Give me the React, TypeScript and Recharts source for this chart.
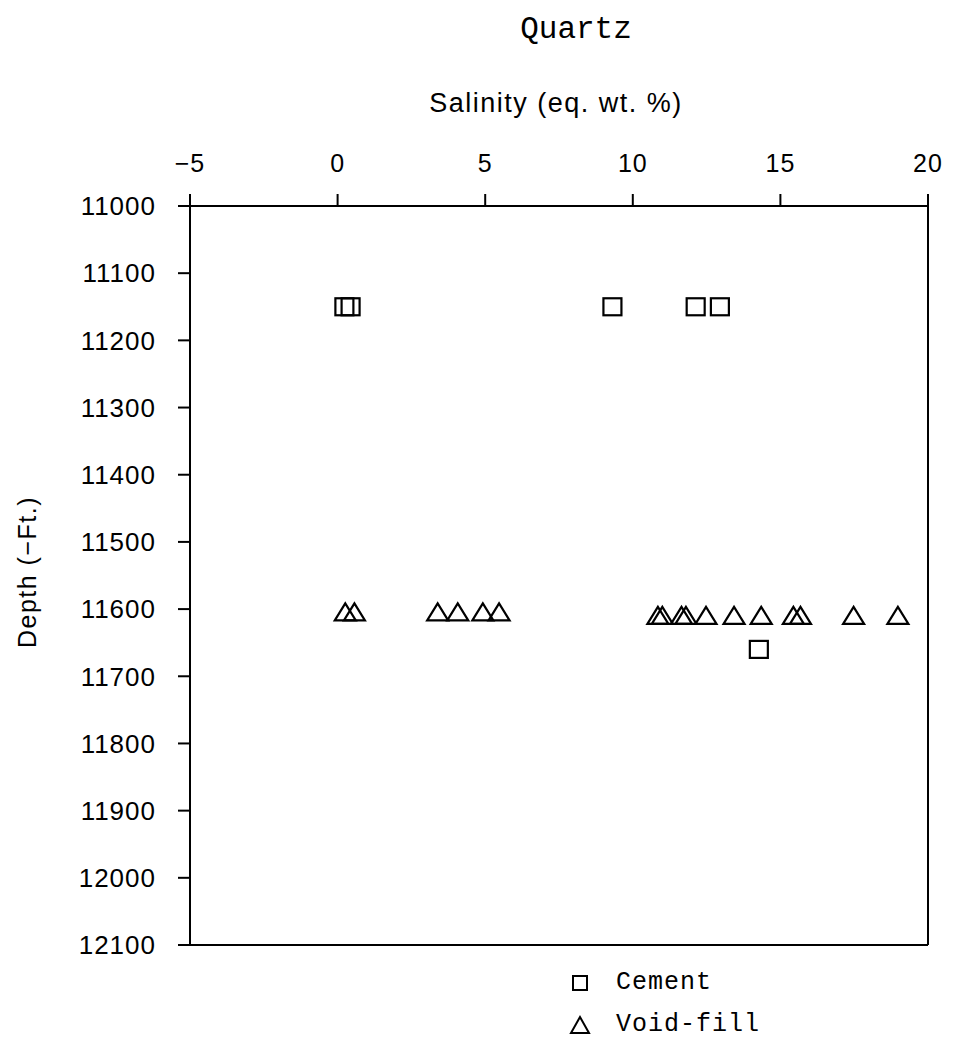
import React from 'react';
import {
  ScatterChart,
  Scatter,
  XAxis,
  YAxis,
  ReferenceLine,
  Legend
} from 'recharts';

// Salinity (eq. wt. %) and depth (-ft)
const cementSalinity = [0.23, 0.44, 9.31, 12.13, 12.95, 14.27];
const cementDepth = [11150, 11150, 11150, 11150, 11150, 11660];

const voidSalinity = [
  0.26, 0.57, 3.39, 4.07, 4.92, 5.47,
  10.85, 11.0, 11.65, 11.8, 12.48, 13.43, 14.35, 15.44, 15.68, 17.48, 18.98
];
const voidDepth = [
  11605, 11605, 11605, 11605, 11605, 11605,
  11610, 11610, 11610, 11610, 11610, 11610, 11610, 11610, 11610, 11610, 11610
];

const salinityTicks = [-5, 0, 5, 10, 15, 20];
const depthTicks = [11000, 11100, 11200, 11300, 11400, 11500, 11600, 11700, 11800, 11900, 12000, 12100];

const cementData = cementSalinity.map((x, i) => ({ x, y: cementDepth[i] }));
const voidData = voidSalinity.map((x, i) => ({ x, y: voidDepth[i] }));

const SANS = '"Liberation Sans", Arial, sans-serif';
const MONO = '"Liberation Mono", "Courier New", monospace';

const SquareShape = (props: any) => {
  const { cx, cy } = props;
  return <rect x={cx - 9} y={cy - 8.5} width={18} height={17} fill="none" stroke="#000" strokeWidth={2.2} />;
};

const TriangleShape = (props: any) => {
  const { cx, cy } = props;
  return (
    <polygon
      points={`${cx},${cy - 9} ${cx - 10.5},${cy + 8} ${cx + 10.5},${cy + 8}`}
      fill="none"
      stroke="#000"
      strokeWidth={2.2}
      strokeLinejoin="miter"
    />
  );
};

const iconStyle: React.CSSProperties = { display: 'block', flexShrink: 0, overflow: 'visible' };

const renderLegend = () => (
  <div style={{ fontFamily: MONO, fontSize: 25, color: '#000', letterSpacing: 1, lineHeight: '30px' }}>
    <div style={{ display: 'flex', alignItems: 'center', height: 34 }}>
      <svg width={30} height={24} style={iconStyle}>
        <rect x={5} y={5} width={14} height={14} fill="none" stroke="#000" strokeWidth={2} />
      </svg>
      <span style={{ marginLeft: 18 }}>Cement</span>
    </div>
    <div style={{ display: 'flex', alignItems: 'center', height: 34, marginTop: 8 }}>
      <svg width={30} height={24} style={iconStyle}>
        <polygon points="12,4 3,20 21,20" fill="none" stroke="#000" strokeWidth={2} />
      </svg>
      <span style={{ marginLeft: 18 }}>Void-fill</span>
    </div>
  </div>
);

const fmtTick = (v: number) => (v < 0 ? `−${Math.abs(v)}` : `${v}`);

export default function App() {
  return (
    <div style={{ position: 'relative', width: 954, height: 1043, margin: -8, background: '#fff' }}>
      <div
        style={{
          position: 'absolute', left: 0, width: 1152, top: 12, textAlign: 'center',
          fontFamily: MONO, fontSize: 31, color: '#000'
        }}
      >
        Quartz
      </div>
      <div
        style={{
          position: 'absolute', left: 0, width: 1112, top: 88, textAlign: 'center',
          fontFamily: SANS, fontSize: 27, letterSpacing: 1.5, color: '#000'
        }}
      >
        Salinity (eq. wt. %)
      </div>
      <div
        style={{
          position: 'absolute', left: 27, top: 572, width: 0, height: 0
        }}
      >
        <div
          style={{
            position: 'absolute', transform: 'translate(-50%, -50%) rotate(-90deg)',
            whiteSpace: 'nowrap', fontFamily: SANS, fontSize: 25, letterSpacing: 1.5, color: '#000'
          }}
        >
          Depth (−Ft.)
        </div>
      </div>
      <ScatterChart
        width={954}
        height={1043}
        margin={{ top: 146, left: 70, right: 26, bottom: 98 }}
        style={{ overflow: 'visible' }}
      >
        <XAxis
          type="number"
          dataKey="x"
          orientation="top"
          domain={[-5, 20]}
          ticks={salinityTicks}
          tickFormatter={fmtTick}
          interval={0}
          allowDataOverflow
          height={60}
          tickSize={12}
          tickMargin={22}
          axisLine={{ stroke: '#000', strokeWidth: 2 }}
          tickLine={{ stroke: '#000', strokeWidth: 2 }}
          tick={{ fill: '#000', fontSize: 25, fontFamily: SANS, letterSpacing: 1 }}
        />
        <YAxis
          type="number"
          dataKey="y"
          domain={[11000, 12100]}
          reversed
          ticks={depthTicks}
          interval={0}
          allowDataOverflow
          width={120}
          tickSize={12}
          tickMargin={22}
          axisLine={{ stroke: '#000', strokeWidth: 2 }}
          tickLine={{ stroke: '#000', strokeWidth: 2 }}
          tick={{ fill: '#000', fontSize: 26, fontFamily: SANS, letterSpacing: 1 }}
        />
        <ReferenceLine x={20} stroke="#000" strokeWidth={2} />
        <ReferenceLine y={12100} stroke="#000" strokeWidth={2} />
        <Legend
          content={renderLegend}
          layout="horizontal"
          verticalAlign="middle"
          align="center"
          wrapperStyle={{ position: 'absolute', left: 568, top: 966, width: 260, height: 80, overflow: 'visible' }}
        />
        <Scatter name="Cement" data={cementData} shape={SquareShape} isAnimationActive={false} />
        <Scatter name="Void-fill" data={voidData} shape={TriangleShape} isAnimationActive={false} />
      </ScatterChart>
    </div>
  );
}
